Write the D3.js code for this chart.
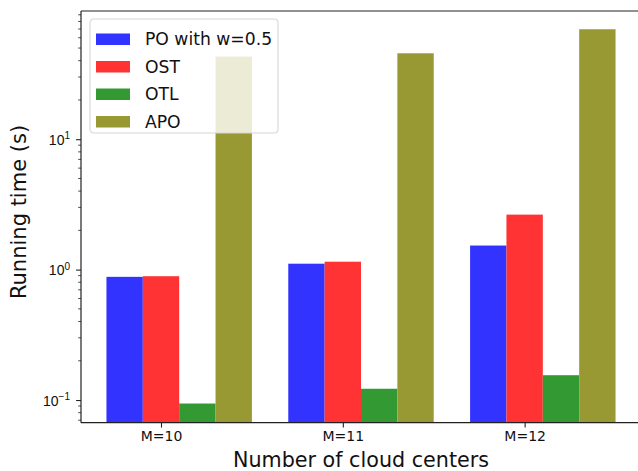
<!DOCTYPE html>
<html>
<head>
<meta charset="utf-8">
<script src="https://cdn.jsdelivr.net/npm/d3@7"></script>
<style>
  html, body { margin: 0; padding: 0; background: #fff; overflow: hidden; }
  svg { display: block; font-family: "DejaVu Sans", sans-serif; }
</style>
</head>
<body>
<svg id="chart" width="638" height="471"></svg>
<script>
// Running time per method for each number of cloud centers (seconds, log scale)
const categories = ["M=10", "M=11", "M=12"];
const seriesNames = ["PO with w=0.5", "OST", "OTL", "APO"];
const seriesColors = ["#3333ff", "#ff3333", "#339933", "#999933"];
const poValues  = [0.88, 1.11, 1.53];
const ostValues = [0.89, 1.15, 2.64];
const otlValues = [0.094, 0.122, 0.155];
const apoValues = [43.0, 45.6, 69.7];
const yTickValues = [0.1, 1, 10];
const yTickExponents = ["\u22121", "0", "1"];

const seriesValues = [poValues, ostValues, otlValues, apoValues];
const barWidth = 0.2;

const svg = d3.select("#chart");

// Axes geometry (the right edge of the axes lies just past the canvas)
const plotLeft = 81, plotRight = 641, plotTop = 11, plotBottom = 422.7;

const x = d3.scaleLinear().domain([-0.24, 2.84]).range([plotLeft, plotRight]);
const y = d3.scaleLog().domain([0.0670, 96.2]).range([plotBottom, plotTop]);

// Bars
const bars = [];
seriesValues.forEach((vals, j) => {
  vals.forEach((v, i) => {
    bars.push({ series: j, cat: i, value: v, pos: i + j * barWidth });
  });
});

const clipId = "plot-clip";
svg.append("defs").append("clipPath").attr("id", clipId)
  .append("rect").attr("x", plotLeft).attr("y", plotTop)
  .attr("width", plotRight - plotLeft).attr("height", plotBottom - plotTop);

svg.append("g").attr("clip-path", `url(#${clipId})`)
  .selectAll("rect.bar").data(bars).join("rect")
  .attr("class", "bar")
  .attr("x", d => x(d.pos - barWidth / 2))
  .attr("width", d => x(d.pos + barWidth / 2) - x(d.pos - barWidth / 2))
  .attr("y", d => y(d.value))
  .attr("height", d => plotBottom - y(d.value))
  .attr("fill", d => seriesColors[d.series]);

// X axis
const xAxis = d3.axisBottom(x)
  .tickValues(categories.map((c, i) => i + barWidth))
  .tickFormat((d, i) => categories[i])
  .tickSize(4.9).tickPadding(3.5).tickSizeOuter(0);

const gx = svg.append("g").attr("transform", `translate(0,${plotBottom})`).call(xAxis);
gx.select(".domain").remove();
gx.selectAll(".tick line").attr("stroke", "#222").attr("stroke-width", 1.1);
gx.selectAll(".tick text").attr("font-size", 14).attr("fill", "#111")
  .attr("font-family", "DejaVu Sans, sans-serif");

// Y axis: major ticks with power-of-ten labels
const yAxis = d3.axisLeft(y).tickValues(yTickValues).tickFormat(() => "")
  .tickSize(4.9).tickSizeOuter(0);
const gy = svg.append("g").attr("transform", `translate(${plotLeft},0)`).call(yAxis);
gy.select(".domain").remove();
gy.selectAll(".tick line").attr("stroke", "#222").attr("stroke-width", 1.1);
gy.selectAll(".tick text").remove();

gy.selectAll(".tick").each(function(d, i) {
  const t = d3.select(this).append("text")
    .attr("x", -11).attr("dy", "0.36em")
    .attr("text-anchor", "end")
    .attr("font-size", 14).attr("fill", "#111");
  t.append("tspan").text("10");
  t.append("tspan").attr("font-size", 10).attr("dy", "-0.55em").text(yTickExponents[i]);
});

// Minor ticks on the log axis
const minorTicks = [];
for (let e = -2; e <= 1; e++) {
  for (let m = 2; m <= 9; m++) {
    const v = m * Math.pow(10, e);
    if (v >= y.domain()[0] && v <= y.domain()[1]) minorTicks.push(v);
  }
}
svg.append("g").selectAll("line.minor").data(minorTicks).join("line")
  .attr("class", "minor")
  .attr("x1", plotLeft - 2.8).attr("x2", plotLeft)
  .attr("y1", d => y(d)).attr("y2", d => y(d))
  .attr("stroke", "#222").attr("stroke-width", 0.8);

// Spines (left, bottom, top)
const spines = svg.append("g").attr("stroke", "#222").attr("stroke-width", 1.2).attr("fill", "none");
spines.append("line").attr("x1", plotLeft).attr("x2", plotLeft).attr("y1", plotTop).attr("y2", plotBottom);
spines.append("line").attr("x1", plotLeft).attr("x2", plotRight).attr("y1", plotBottom).attr("y2", plotBottom);
spines.append("line").attr("x1", plotLeft).attr("x2", plotRight).attr("y1", plotTop).attr("y2", plotTop);

// Axis titles
svg.append("text")
  .attr("x", (plotLeft + plotRight) / 2).attr("y", 467)
  .attr("text-anchor", "middle").attr("font-size", 20.7).attr("fill", "#111")
  .text("Number of cloud centers");

svg.append("text")
  .attr("transform", `translate(26,${212}) rotate(-90)`)
  .attr("text-anchor", "middle").attr("font-size", 21).attr("fill", "#111")
  .text("Running time (s)");

// Legend
const legend = svg.append("g").attr("transform", "translate(90,19)");
legend.append("rect")
  .attr("width", 188).attr("height", 114).attr("rx", 3.5)
  .attr("fill", "#fff").attr("fill-opacity", 0.8)
  .attr("stroke", "#d6d6d6").attr("stroke-width", 1.1);

const rowStep = 27.5;
const items = legend.selectAll("g.item").data(seriesNames).join("g")
  .attr("class", "item")
  .attr("transform", (d, i) => `translate(0,${14.5 + i * rowStep})`);
items.append("rect")
  .attr("x", 6).attr("y", 0).attr("width", 34).attr("height", 11.5)
  .attr("fill", (d, i) => seriesColors[i]);
items.append("text")
  .attr("x", 55).attr("y", 11.5)
  .attr("font-size", 17.2).attr("fill", "#111")
  .text(d => d);
</script>
</body>
</html>
